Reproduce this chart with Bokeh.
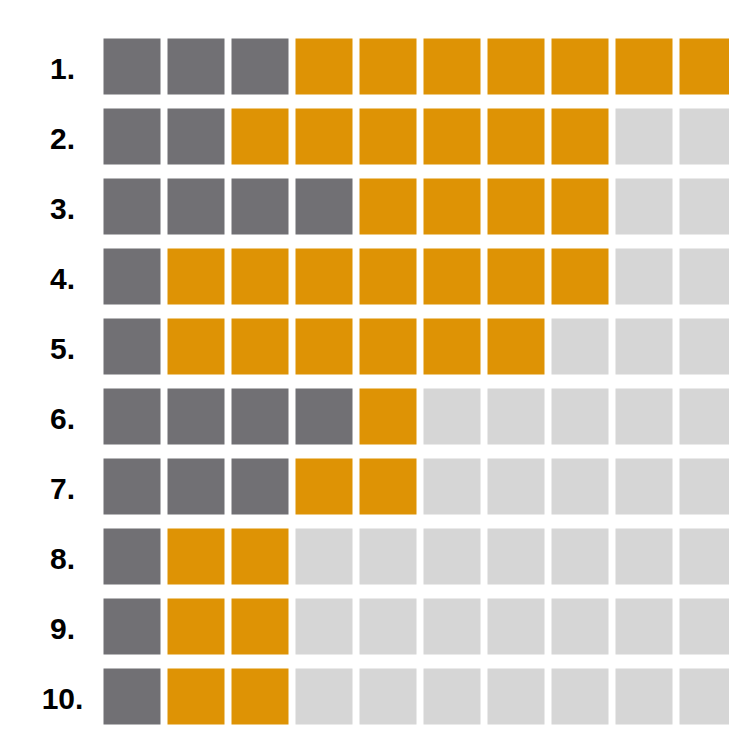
from bokeh.plotting import figure
from bokeh.models import Range1d, ColumnDataSource
from bokeh.core.properties import value
from bokeh.embed import file_html
from bokeh.resources import INLINE

# Data
labels = ["1.", "2.", "3.", "4.", "5.", "6.", "7.", "8.", "9.", "10."]
gray_counts = [3, 2, 4, 1, 1, 4, 3, 1, 1, 1]
orange_counts = [7, 6, 4, 7, 6, 1, 2, 2, 2, 2]
n_cols = 10

GRAY = "#717074"
ORANGE = "#DE9305"
LIGHT = "#D6D6D6"

xs, ys, cols = [], [], []
for i, (g, o) in enumerate(zip(gray_counts, orange_counts)):
    for j in range(n_cols):
        xs.append(j)
        ys.append(i)
        if j < g:
            cols.append(GRAY)
        elif j < g + o:
            cols.append(ORANGE)
        else:
            cols.append(LIGHT)

W, H = 729, 733
px_x, px_y = 64.0, 70.0
x0 = 131.5  # in-figure pixel center of column 0
y0 = 66.0   # in-figure pixel center of row 0

p = figure(width=W, height=H, output_backend="svg", toolbar_location=None,
           x_range=Range1d(-x0 / px_x, (W - x0) / px_x),
           y_range=Range1d((H - y0) / px_y, -y0 / px_y),
           min_border=0, outline_line_color=None,
           background_fill_color="white", border_fill_color="white")
p.axis.visible = False
p.grid.visible = False

src = ColumnDataSource(dict(x=xs, y=ys, c=cols))
p.rect(x="x", y="y", width=57 / px_x, height=56 / px_y, fill_color="c",
       line_color=None, source=src)

lab_src = ColumnDataSource(dict(x=[-1.086] * len(labels), y=list(range(len(labels))), t=labels))
p.text(x="x", y="y", text="t", source=lab_src, text_align="center",
       text_baseline="middle", text_font=value("Liberation Sans"),
       text_font_style="bold", text_font_size="30px", text_color="black",
       y_offset=2)

open("out.html", "w").write(file_html(p, INLINE))
